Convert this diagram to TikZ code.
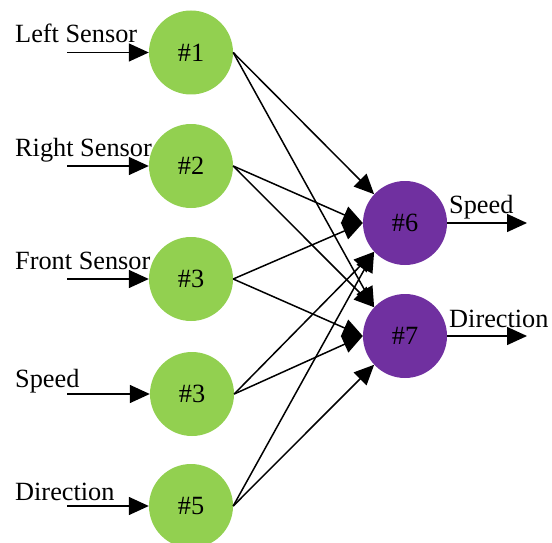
\documentclass[tikz,border=0pt]{standalone}
\usepackage{fontspec}
\setmainfont{Liberation Serif}
\usetikzlibrary{arrows.meta}
\definecolor{ngreen}{HTML}{92D050}
\definecolor{npurple}{HTML}{7030A0}
\begin{document}
\begin{tikzpicture}[x=1pt,y=-1pt,
  font=\fontsize{26.3}{31}\selectfont,
  inneuron/.style={circle,fill=ngreen,minimum size=84pt,inner sep=0pt},
  outneuron/.style={circle,fill=npurple,minimum size=84pt,inner sep=0pt},
  conn/.style={line width=1.5pt,-{Triangle[length=20pt,width=18pt]}},
  lbl/.style={anchor=base west,inner sep=0pt}]
\useasboundingbox (0,0) rectangle (552,543);
\begin{scope}
\clip (0,0) rectangle (552,543);
\node[inneuron] (g1) at (191,52.5) {\#1};
\node[inneuron] (g2) at (191,166) {\#2};
\node[inneuron] (g3) at (191,279) {\#3};
\node[inneuron] (g4) at (192,394) {\#3};
\node[inneuron] (g5) at (191,506) {\#5};
\node[outneuron] (p6) at (405,223) {\#6};
\node[outneuron] (p7) at (405,336) {\#7};
\end{scope}
% input labels
\node[lbl] (t1) at (15,43) {Left Sensor};
\node[lbl] (t2) at (15,156) {Right Sensor};
\node[lbl] (t3) at (15,269) {Front Sensor};
\node[lbl] (t4) at (15,387) {Speed};
\node[lbl] (t5) at (15,500) {Direction};
% input arrows
\coordinate (i1) at (67,52.5);
\coordinate (i2) at (67,166);
\coordinate (i3) at (67,279);
\coordinate (i4) at (67,394);
\coordinate (i5) at (67,506);
\draw[conn] (i1) -- (g1.west);
\draw[conn] (i2) -- (g2.west);
\draw[conn] (i3) -- (g3.west);
\draw[conn] (i4) -- (g4.west);
\draw[conn] (i5) -- (g5.west);
% connections
\draw[conn] (g1.east) -- (p6.137);
\draw[conn] (g1.east) -- (p7.137);
\draw[conn] (g2.east) -- (p6.west);
\draw[conn] (g2.east) -- (p7.137);
\draw[conn] (g3.east) -- (p6.west);
\draw[conn] (g3.east) -- (p7.west);
\draw[conn] (g4.east) -- (p6.223);
\draw[conn] (g4.east) -- (p7.west);
\draw[conn] (g5.east) -- (p6.223);
\draw[conn] (g5.east) -- (p7.223);
% outputs
\coordinate (o6) at (527,223);
\coordinate (o7) at (527,336);
\draw[conn] (p6.east) -- (o6);
\draw[conn] (p7.east) -- (o7);
\node[lbl] (s6) at (449,213) {Speed};
\node[lbl] (s7) at (449,327) {Direction};
\end{tikzpicture}
\end{document}
